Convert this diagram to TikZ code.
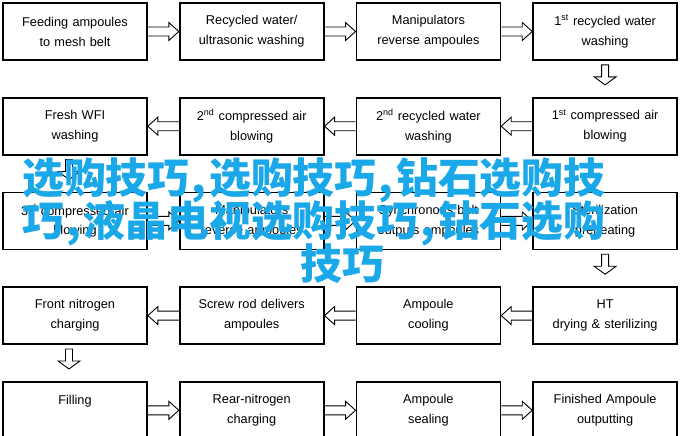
\documentclass[tikz,border=0pt]{standalone}
\usepackage{fontspec}
\setmainfont{Liberation Sans}
\newfontfamily\adfont{Noto Sans CJK SC}
\usetikzlibrary{positioning, calc}
\definecolor{adBlue}{RGB}{26,168,232}
\tikzstyle{fProcess} = [rectangle, minimum width=144bp, minimum height=57bp, text centered, text width=142bp, inner sep=0pt, draw=black, line width=1.7bp, font=\fontsize{12.8}{20}\selectfont]
\tikzstyle{fHollow} = [draw=black, line width=0.9bp, line join=miter]
\tikzstyle{fAdText} = [anchor=base west, inner sep=0pt, text=adBlue, font=\adfont\bfseries\fontsize{42}{43}\selectfont]
\newcommand{\fArrowRight}[2]{%
  \draw[fHollow] let \p1=(#1.east), \p2=(#2.west) in
    (\x1,\y1+4.5bp) -- (\x2-10bp,\y1+4.5bp) -- (\x2-10bp,\y1+9bp) -- (\x2,\y1)
    -- (\x2-10bp,\y1-9bp) -- (\x2-10bp,\y1-4.5bp) -- (\x1,\y1-4.5bp);}
\newcommand{\fArrowLeft}[2]{%
  \draw[fHollow] let \p1=(#1.west), \p2=(#2.east) in
    (\x1,\y1+4.5bp) -- (\x2+10bp,\y1+4.5bp) -- (\x2+10bp,\y1+9bp) -- (\x2,\y1)
    -- (\x2+10bp,\y1-9bp) -- (\x2+10bp,\y1-4.5bp) -- (\x1,\y1-4.5bp);}
\newcommand{\fArrowDown}[3][0bp]{%
  \draw[fHollow] let \p1=($(#2.south)+(#1,0)$), \p2=(#3.north) in
    (\x1-3.5bp,\y2+32bp) -- (\x1-3.5bp,\y2+20bp) -- (\x1-11bp,\y2+20bp) -- (\x1,\y2+12bp)
    -- (\x1+11bp,\y2+20bp) -- (\x1+3.5bp,\y2+20bp) -- (\x1+3.5bp,\y2+32bp) -- cycle;}
\newcommand{\adComma}{\kern2bp,\kern3bp}

\begin{document}
\begin{tikzpicture}
    \useasboundingbox (0,0) rectangle (683bp,-436bp);

    % row 1
    \node (feed) [fProcess] at (75bp,-31.5bp) {Feeding ampoules\\to mesh belt};
    \node (recycled) [fProcess, right=31bp of feed] {Recycled water/\\ultrasonic washing};
    \node (manipRev) [fProcess, right=31bp of recycled] {Manipulators\\reverse ampoules};
    \node (firstWater) [fProcess, right=31bp of manipRev] {1\textsuperscript{st} recycled water\\washing};
    % row 2
    \node (firstAir) [fProcess, below=36bp of firstWater] {1\textsuperscript{st} compressed air\\blowing};
    \node (secondWater) [fProcess, left=31bp of firstAir] {2\textsuperscript{nd} recycled water\\washing};
    \node (secondAir) [fProcess, left=31bp of secondWater] {2\textsuperscript{nd} compressed air\\blowing};
    \node (freshWfi) [fProcess, left=31bp of secondAir] {Fresh WFI\\washing};
    % row 3
    \node (thirdAir) [fProcess, below=36bp of freshWfi] {3\textsuperscript{rd} compressed air\\blowing};
    \node (manipOut) [fProcess, right=31bp of thirdAir] {Manipulators\\reverse ampoules};
    \node (syncBelt) [fProcess, right=31bp of manipOut] {Synchronous belt\\outputs ampoules};
    \node (sterPre) [fProcess, right=31bp of syncBelt] {Sterilization\\preheating};
    % row 4
    \node (htDry) [fProcess, below=36bp of sterPre] {HT\\drying \& sterilizing};
    \node (ampCool) [fProcess, left=31bp of htDry] {Ampoule\\cooling};
    \node (screwRod) [fProcess, left=31bp of ampCool] {Screw rod delivers\\ampoules};
    \node (frontNit) [fProcess, left=31bp of screwRod] {Front nitrogen\\charging};
    % row 5
    \node (filling) [fProcess, below=36bp of frontNit] {Filling\\\mbox{}};
    \node (rearNit) [fProcess, right=31bp of filling] {Rear-nitrogen\\charging};
    \node (ampSeal) [fProcess, right=31bp of rearNit] {Ampoule\\sealing};
    \node (finished) [fProcess, right=31bp of ampSeal] {Finished Ampoule\\outputting};

    \fArrowRight{feed}{recycled}
    \fArrowRight{recycled}{manipRev}
    \fArrowRight{manipRev}{firstWater}
    \fArrowDown{firstWater}{firstAir}
    \fArrowLeft{firstAir}{secondWater}
    \fArrowLeft{secondWater}{secondAir}
    \fArrowLeft{secondAir}{freshWfi}
    \fArrowDown[-6bp]{freshWfi}{thirdAir}
    \fArrowRight{thirdAir}{manipOut}
    \fArrowRight{manipOut}{syncBelt}
    \fArrowRight{syncBelt}{sterPre}
    \fArrowDown{sterPre}{htDry}
    \fArrowLeft{htDry}{ampCool}
    \fArrowLeft{ampCool}{screwRod}
    \fArrowLeft{screwRod}{frontNit}
    \fArrowDown[-6bp]{frontNit}{filling}
    \fArrowRight{filling}{rearNit}
    \fArrowRight{rearNit}{ampSeal}
    \fArrowRight{ampSeal}{finished}

    % blue overlay text
    \node (adLineA) [fAdText] at (22bp,-193bp) {选购技巧\adComma 选购技巧\adComma 钻石选购技};
    \node (adLineB) [fAdText] at (22bp,-236bp) {巧\adComma 液晶电视选购技巧\adComma 钻石选购};
    \node (adLineC) [fAdText, anchor=base] at (342bp,-279bp) {技巧};
\end{tikzpicture}
\end{document}
